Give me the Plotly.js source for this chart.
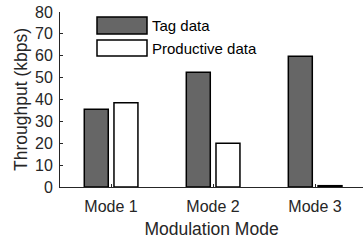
<!DOCTYPE html>
<html>
<head>
<meta charset="utf-8">
<script src="https://cdn.plot.ly/plotly-3.0.1.min.js"></script>
<style>html,body{margin:0;padding:0;background:#fff;}#chart{width:363px;height:240px;}</style>
</head>
<body>
<div id="chart"></div>
<script>
var categories = ["Mode 1", "Mode 2", "Mode 3"];
var tagData = [35.5, 52.5, 59.8];
var productiveData = [38.5, 20, 0.6];
var seriesNames = ["Tag data", "Productive data"];
var yTicks = [0, 10, 20, 30, 40, 50, 60, 70, 80];

var FONT = '"Liberation Sans", Arial, Helvetica, sans-serif';
var TXT = '#262626';

var traces = [
  {
    type: 'bar', x: [0, 1, 2], y: tagData, name: seriesNames[0],
    width: 0.235, offset: -0.262,
    marker: {color: '#666666', line: {color: '#000000', width: 1.5}},
    showlegend: false, hoverinfo: 'none'
  },
  {
    type: 'bar', x: [0, 1, 2], y: productiveData, name: seriesNames[1],
    width: 0.235, offset: 0.029,
    marker: {color: '#ffffff', line: {color: '#000000', width: 1.5}},
    showlegend: false, hoverinfo: 'none'
  }
];

function lx(px) { return (px - 60) / 303; }
function ly(py) { return (187 - py) / 175; }

var layout = {
  width: 363, height: 240,
  margin: {l: 60, r: 0, t: 12, b: 53},
  paper_bgcolor: '#ffffff', plot_bgcolor: '#ffffff',
  barmode: 'overlay',
  font: {family: FONT, color: TXT, size: 16},
  xaxis: {
    range: [-0.5, 2.47],
    tickmode: 'array', tickvals: [0, 1, 2], ticktext: categories,
    ticks: 'inside', ticklen: 3, tickcolor: '#262626', tickwidth: 1,
    showline: true, linecolor: '#262626', linewidth: 1,
    showgrid: false, zeroline: false,
    ticklabelstandoff: 5,
    tickfont: {size: 16, color: TXT, family: FONT},
    title: {text: 'Modulation Mode', font: {size: 17.5, color: TXT, family: FONT}, standoff: 8}
  },
  yaxis: {
    range: [0, 80],
    tickmode: 'array', tickvals: yTicks,
    ticks: 'inside', ticklen: 3, tickcolor: '#262626', tickwidth: 1,
    showline: true, linecolor: '#262626', linewidth: 1,
    showgrid: false, zeroline: false,
    ticklabelstandoff: 3,
    tickfont: {size: 16, color: TXT, family: FONT},
    title: {text: 'Throughput (kbps)', font: {size: 17.5, color: TXT, family: FONT}, standoff: 2}
  },
  shapes: [
    {type: 'rect', xref: 'paper', yref: 'paper', x0: lx(97), x1: lx(147), y0: ly(34), y1: ly(17),
     fillcolor: '#666666', line: {color: '#000000', width: 1.5}},
    {type: 'rect', xref: 'paper', yref: 'paper', x0: lx(97), x1: lx(147), y0: ly(56), y1: ly(40),
     fillcolor: '#ffffff', line: {color: '#000000', width: 1.5}}
  ],
  annotations: [
    {xref: 'paper', yref: 'paper', x: lx(150), y: ly(25.5), xanchor: 'left', yanchor: 'middle',
     text: seriesNames[0], showarrow: false, font: {size: 15, color: '#000000', family: FONT}},
    {xref: 'paper', yref: 'paper', x: lx(150), y: ly(48), xanchor: 'left', yanchor: 'middle',
     text: seriesNames[1], showarrow: false, font: {size: 15, color: '#000000', family: FONT}}
  ]
};

Plotly.newPlot('chart', traces, layout, {staticPlot: true, displayModeBar: false});
</script>
</body>
</html>
